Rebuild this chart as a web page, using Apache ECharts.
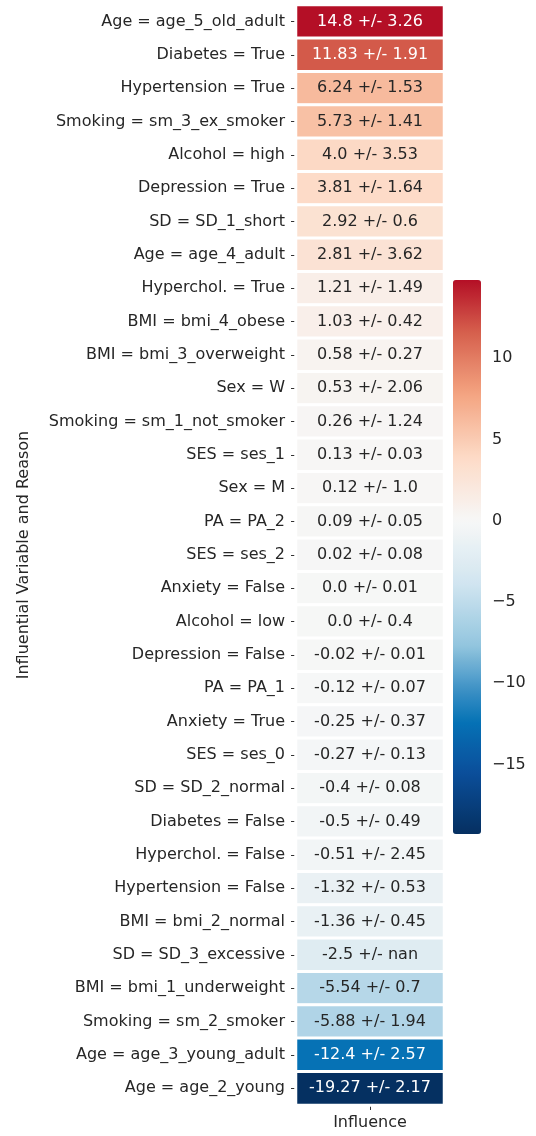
<!DOCTYPE html>
<html>
<head>
<meta charset="utf-8">
<script src="https://cdn.jsdelivr.net/npm/echarts@6/dist/echarts.min.js"></script>
<style>
html,body{margin:0;padding:0;background:#fff;}
#chart{width:536px;height:1136px;}
</style>
</head>
<body>
<div id="chart"></div>
<script>
const categories = [
  "Age = age_5_old_adult","Diabetes = True","Hypertension = True","Smoking = sm_3_ex_smoker",
  "Alcohol = high","Depression = True","SD = SD_1_short","Age = age_4_adult",
  "Hyperchol. = True","BMI = bmi_4_obese","BMI = bmi_3_overweight","Sex = W",
  "Smoking = sm_1_not_smoker","SES = ses_1","Sex = M","PA = PA_2","SES = ses_2",
  "Anxiety = False","Alcohol = low","Depression = False","PA = PA_1","Anxiety = True",
  "SES = ses_0","SD = SD_2_normal","Diabetes = False","Hyperchol. = False",
  "Hypertension = False","BMI = bmi_2_normal","SD = SD_3_excessive",
  "BMI = bmi_1_underweight","Smoking = sm_2_smoker","Age = age_3_young_adult","Age = age_2_young"
];
const influence = [14.8,11.83,6.24,5.73,4.0,3.81,2.92,2.81,1.21,1.03,0.58,0.53,0.26,0.13,0.12,0.09,0.02,
  0.0,0.0,-0.02,-0.12,-0.25,-0.27,-0.4,-0.5,-0.51,-1.32,-1.36,-2.5,-5.54,-5.88,-12.4,-19.27];
const spread = [3.26,1.91,1.53,1.41,3.53,1.64,0.6,3.62,1.49,0.42,0.27,2.06,1.24,0.03,1.0,0.05,0.08,
  0.01,0.4,0.01,0.07,0.37,0.13,0.08,0.49,2.45,0.53,0.45,NaN,0.7,1.94,2.57,2.17];
const xCategories = ["Influence"];
const colorbarTicks = [-15,-10,-5,0,5,10];

// colour ramp (value position, colour) as seen in the reference colour bar
const rampValues = [-19.27,-15.4,-12.4,-10.5,-7.71,-3.85,0,3.85,7.71,11.56,14.8];
const rampColors = ["#053061","#0b4f9c","#0572b5","#3a8fc4","#92c5de","#d1e5f0","#f7f7f7","#fddbc7","#f4a582","#d6604d","#b40f26"];
function hex2rgb(h){return [parseInt(h.slice(1,3),16),parseInt(h.slice(3,5),16),parseInt(h.slice(5,7),16)];}
function rampAt(v){
  if (v <= rampValues[0]) return rampColors[0];
  for (let i=0;i<rampValues.length-1;i++){
    if (v <= rampValues[i+1]){
      const f = (v-rampValues[i])/(rampValues[i+1]-rampValues[i]);
      const a = hex2rgb(rampColors[i]), b = hex2rgb(rampColors[i+1]);
      return 'rgb('+a.map((x,k)=>Math.round(x+(b[k]-x)*f)).join(',')+')';
    }
  }
  return rampColors[rampColors.length-1];
}
const vmin = Math.min(...influence), vmax = Math.max(...influence);
const mapColors = [];
const N = 80;
for (let i=0;i<=N;i++) mapColors.push(rampAt(vmin + (vmax-vmin)*i/N));

function fmt(v){ if (isNaN(v)) return 'nan'; return Number.isInteger(v) ? v.toFixed(1) : String(v); }

const data = influence.map((v,i)=>({
  value:[0,i,v],
  label:{color: Math.abs(v) > 10 ? '#ffffff' : '#262626'}
}));

const FONT = 'DejaVu Sans';
const chart = echarts.init(document.getElementById('chart'), null, {renderer:'canvas'});
chart.setOption({
  backgroundColor:'#ffffff',
  animation:false,
  textStyle:{fontFamily:FONT},
  grid:[
    {left:296, top:5, width:148, height:1100, containLabel:false},
    {left:453, top:280, width:28, height:554, containLabel:false}
  ],
  xAxis:[
    {type:'category', gridIndex:0, data:xCategories, position:'bottom',
     axisLine:{show:false}, splitLine:{show:false},
     axisTick:{show:true, alignWithLabel:true, length:5, lineStyle:{color:'#333', width:1}},
     axisLabel:{fontSize:16, color:'#262626', fontFamily:FONT, margin:10}},
    {type:'value', gridIndex:1, show:false, min:0, max:1}
  ],
  yAxis:[
    {type:'category', gridIndex:0, data:categories, inverse:true,
     axisLine:{show:false}, splitLine:{show:false},
     axisTick:{show:true, alignWithLabel:true, length:5, lineStyle:{color:'#333', width:1}},
     axisLabel:{fontSize:16, color:'#262626', fontFamily:FONT, margin:11, interval:0},
     name:'Influential Variable and Reason', nameLocation:'middle', nameRotate:90, nameGap:264,
     nameTextStyle:{fontSize:16, color:'#262626', fontFamily:FONT}},
    {type:'value', gridIndex:1, position:'right', min:vmin, max:vmax,
     axisLine:{show:false}, splitLine:{show:false},
     axisTick:{show:true, length:5, customValues:colorbarTicks, lineStyle:{color:'#333', width:1}},
     axisLabel:{show:true, customValues:colorbarTicks, fontSize:16, color:'#262626', fontFamily:FONT, margin:11,
       formatter:function(v){return String(v).replace('-','\u2212');}}}
  ],
  visualMap:{
    type:'continuous', seriesIndex:0, min:vmin, max:vmax, calculable:false,
    orient:'vertical', left:453, top:280, itemWidth:28, itemHeight:554, padding:0,
    text:['',''], showLabel:false, hoverLink:false,
    inRange:{color:mapColors}
  },
  series:[
    {type:'heatmap', xAxisIndex:0, yAxisIndex:0, data:data,
     itemStyle:{borderColor:'#ffffff', borderWidth:3},
     label:{show:true, fontSize:16, fontFamily:FONT,
       formatter:function(p){return fmt(p.value[2]) + ' +/- ' + fmt(spread[p.dataIndex]);}},
     emphasis:{disabled:true}},
    {type:'line', xAxisIndex:1, yAxisIndex:1, data:[], silent:true}
  ]
});
</script>
</body>
</html>
